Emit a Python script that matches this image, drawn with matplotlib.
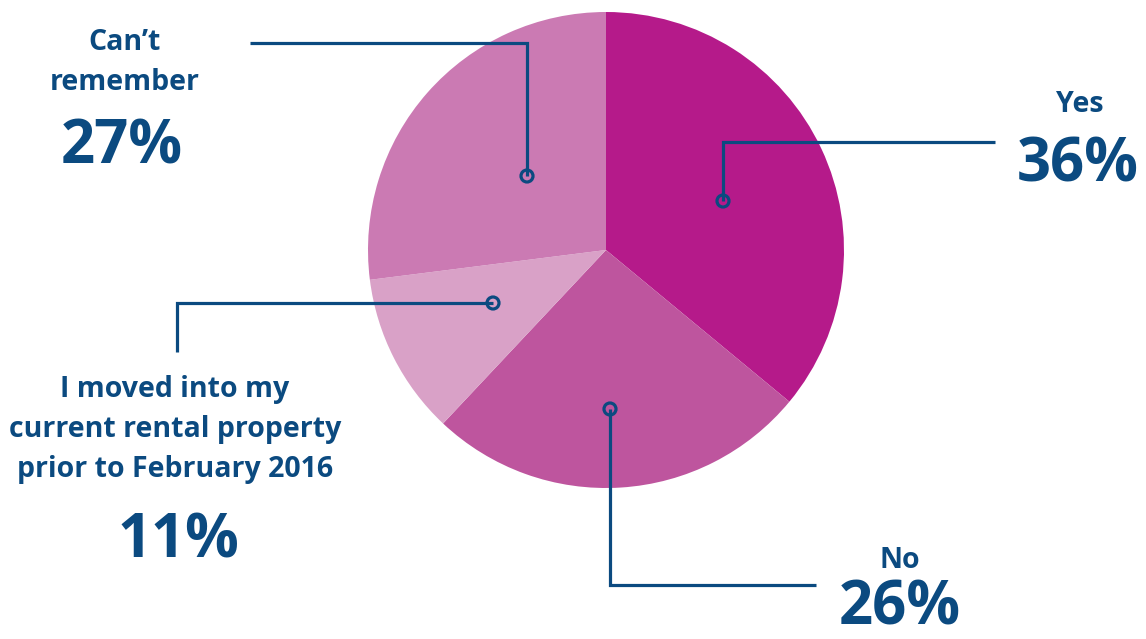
import matplotlib.pyplot as plt
from matplotlib.patches import Circle

labels = ["Yes", "No", "I moved into my\ncurrent rental property\nprior to February 2016", "Can\u2019t\nremember"]
values = [36, 26, 11, 27]
pct_labels = ["36%", "26%", "11%", "27%"]
colors = ["#B51A8A", "#BE559E", "#D9A1C7", "#CB7AB3"]
navy = "#0B4A80"

W, H = 1146, 639
fig = plt.figure(figsize=(W / 100, H / 100), dpi=100)
ax = fig.add_axes([0, 0, 1, 1])

def Y(py):
    return H - py

ax.pie(values, colors=colors, startangle=90, counterclock=False,
       center=(606, Y(250)), radius=238, frame=True,
       wedgeprops=dict(linewidth=0))
ax.set_xlim(0, W)
ax.set_ylim(0, H)
ax.set_aspect("equal")
ax.axis("off")

lw = 2.3
# leader lines (pixel coords)
leaders = [
    [(723, 201), (723, 142), (995, 142)],
    [(610, 409), (610, 585), (816, 585)],
    [(493, 303), (177, 303), (177, 352)],
    [(527, 176), (527, 43), (250, 43)],
]
for pts in leaders:
    xs = [p[0] for p in pts]
    ys = [Y(p[1]) for p in pts]
    ax.plot(xs, ys, color=navy, lw=lw, solid_capstyle="butt", solid_joinstyle="miter", zorder=3)
    ax.add_patch(Circle((pts[0][0], Y(pts[0][1])), 6, facecolor="none",
                        edgecolor=navy, lw=lw, zorder=4))

fam = ["Open Sans", "DejaVu Sans"]
lab_kw = dict(color=navy, family=fam, fontweight="bold", fontsize=20.5,
              ha="center", va="center", linespacing=1.5)
pct_kw = dict(color=navy, family=fam, fontweight="bold", fontsize=43,
              ha="center", va="center")

# Yes
ax.text(1080, Y(105), labels[0], **lab_kw)
ax.text(1078, Y(166), pct_labels[0], **pct_kw)
# No
ax.text(900, Y(561), labels[1], **lab_kw)
ax.text(900, Y(609), pct_labels[1], **pct_kw)
# 11%
ax.text(175, Y(430), labels[2], **lab_kw)
ax.text(178, Y(542), pct_labels[2], **pct_kw)
# Can't remember
ax.text(125, Y(63), labels[3], **lab_kw)
ax.text(122, Y(148), pct_labels[3], **pct_kw)

fig.savefig("out.png", dpi=100, facecolor="white")
